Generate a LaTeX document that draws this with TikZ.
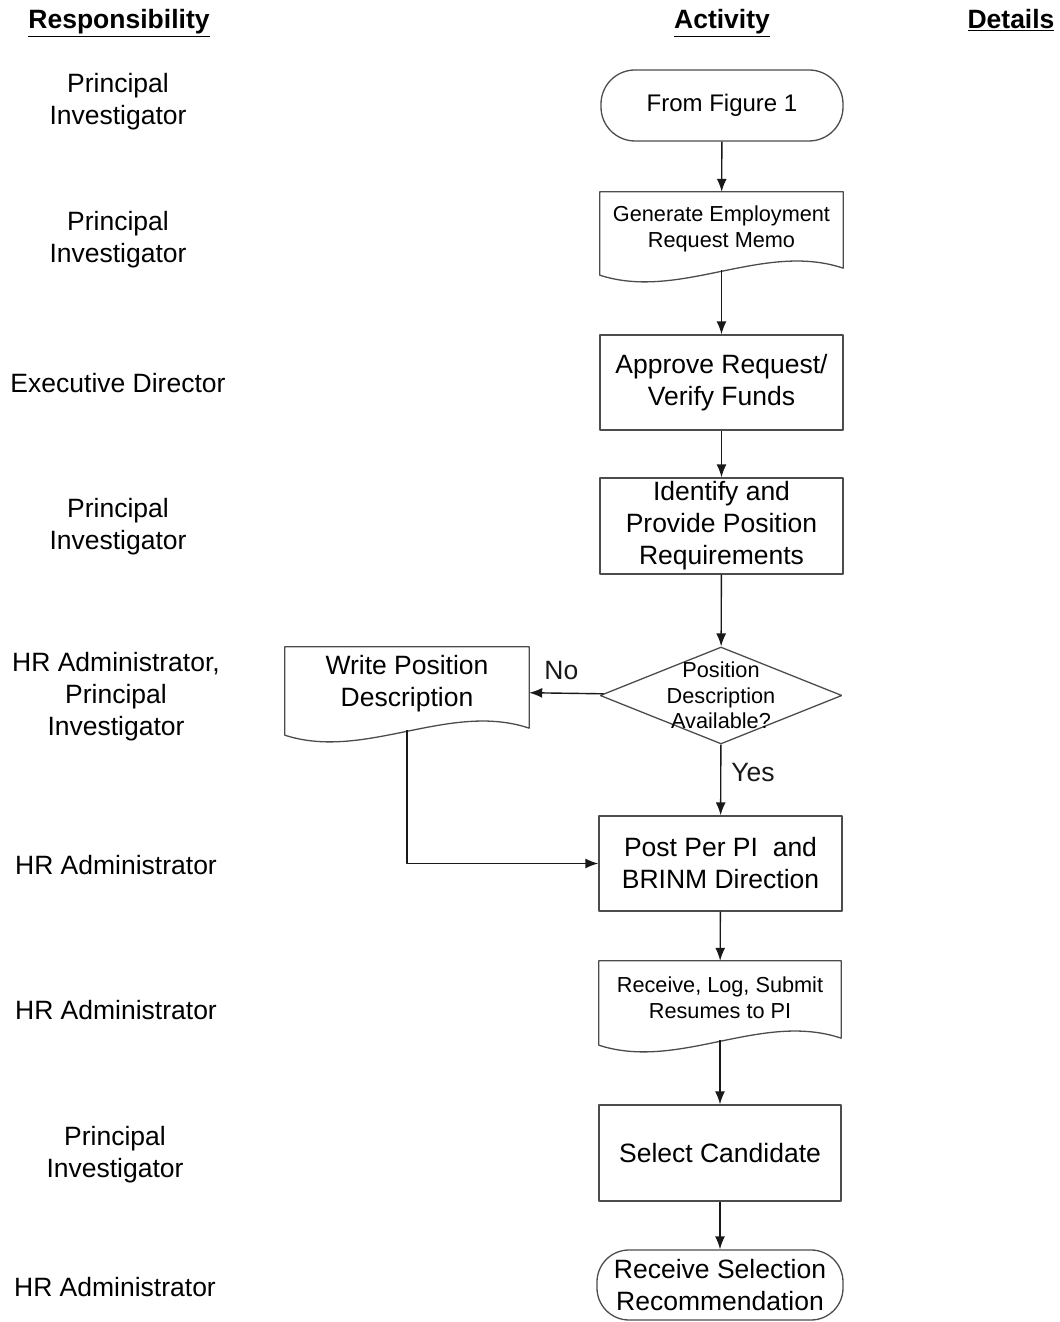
\documentclass[tikz,border=0pt]{standalone}
\usepackage{fontspec}
\setmainfont{Liberation Sans}
\usetikzlibrary{arrows.meta,shapes.geometric}
% wavy bottom of a document box
\newcommand{\docoutline}[1]{%
  \draw[outline] (#1.south west) -- (#1.north west) -- (#1.north east) -- ([yshift=7bp]#1.south east)
    .. controls ([xshift=-80bp,yshift=34bp]#1.south east) and ([xshift=80bp,yshift=-26bp]#1.south west) .. (#1.south west) -- cycle;}
\begin{document}
\begin{tikzpicture}[>={Latex[length=13bp,width=10bp]},line join=bevel,
  big/.style={font=\fontsize{26.5bp}{32bp}\selectfont,align=center,inner sep=0pt},
  small/.style={font=\fontsize{21.7bp}{26bp}\selectfont,align=center,inner sep=0pt},
  head/.style={font=\fontsize{26.5bp}{32bp}\selectfont\bfseries,inner sep=0pt,anchor=base},
  outline/.style={draw=black!70,line width=1.3bp},
  procbox/.style={outline,rectangle,minimum width=243bp,minimum height=95bp,big},
  termbox/.style={outline,rectangle,rounded corners=34bp,minimum width=242bp,minimum height=71bp,align=center,inner sep=0pt},
  docbox/.style={rectangle,minimum width=243bp,inner sep=0pt},
  decbox/.style={outline,diamond,minimum width=242bp,minimum height=97bp,inner sep=0pt},
  flow/.style={->,line width=1.4bp,black!90},
]
\useasboundingbox (0,0) rectangle (1060bp,1322bp);
%% column heads
\node[head] (hresp) at (119bp,1293bp) {\underline{Responsibility}};
\node[head] (hact) at (722bp,1293bp) {\underline{Activity}};
\node[head] (hdet) at (1011bp,1293bp) {\underline{Details}};
%% responsibility column
\node[big] (r1) at (118bp,1220bp) {Principal\\Investigator};
\node[big] (r2) at (118bp,1082bp) {Principal\\Investigator};
\node[big] (r3) at (118bp,939bp) {Executive Director};
\node[big] (r4) at (118bp,795bp) {Principal\\Investigator};
\node[big] (r5) at (116bp,625bp) {HR Administrator,\\Principal\\Investigator};
\node[big] (r6) at (116bp,457bp) {HR Administrator};
\node[big] (r7) at (116bp,312bp) {HR Administrator};
\node[big] (r8) at (115bp,167bp) {Principal\\Investigator};
\node[big] (r9) at (115bp,35bp) {HR Administrator};
%% activity column
  % Node: start
\node[termbox,font=\fontsize{24bp}{29bp}\selectfont] (start) at (722bp,1216.5bp) {From Figure 1};
  % Node: gen
\node[docbox,minimum height=83bp] (gen) at (721.5bp,1088.5bp) {};
\node[small] (gentxt) at ([yshift=5bp]gen.center) {Generate Employment\\Request Memo};
\docoutline{gen}
  % Node: approve
\node[procbox] (approve) at (721.5bp,939.5bp) {Approve Request/\\Verify Funds};
  % Node: ident
\node[procbox,minimum height=96bp] (ident) at (721.5bp,796bp) {Identify and\\Provide Position\\Requirements};
  % Node: posdesc
\node[decbox] (posdesc) at (721bp,626.5bp) {};
\node[small,font=\fontsize{21.7bp}{25.5bp}\selectfont] (posdesctxt) at (posdesc.center) {Position\\Description\\Available?};
  % Node: writepd
\node[docbox,minimum width=244bp,minimum height=88bp] (writepd) at (407bp,631bp) {};
\node[big] (writepdtxt) at ([yshift=7bp]writepd.center) {Write Position\\Description};
\docoutline{writepd}
  % Node: post
\node[procbox] (post) at (720.5bp,458.5bp) {Post Per PI~ and\\BRINM Direction};
  % Node: resumes
\node[docbox,minimum width=242bp,minimum height=84bp] (resumes) at (720bp,319bp) {};
\node[small] (resumestxt) at ([yshift=5bp]resumes.center) {Receive, Log, Submit\\Resumes to PI};
\docoutline{resumes}
  % Node: select
\node[procbox,minimum width=242bp,minimum height=96bp] (select) at (720bp,169bp) {Select Candidate};
  % Node: recsel
\node[termbox,big,minimum width=246bp,minimum height=70bp,rounded corners=32bp] (recsel) at (720bp,37bp) {Receive Selection\\Recommendation};
%% connectors
  % Edge: start -> gen
\draw[flow] (start) -- (gen);
  % Edge: gen -> approve
\draw[flow,shorten <=-5bp] (gen) -- (approve);
  % Edge: approve -> ident
\draw[flow] (approve) -- (ident);
  % Edge: ident -> posdesc
\draw[flow] (ident) -- (posdesc);
  % Edge: posdesc -> writepd
\draw[flow] (posdesc) -- node[big,above=13bp,xshift=-5bp] {No} (writepd);
  % Edge: posdesc -> post
\draw[flow] (posdesc) -- node[big,right=10bp,pos=0.4] {Yes} (post);
  % Edge: writepd -> post
\draw[flow,shorten <=-5bp] (writepd.south) |- (post.west);
  % Edge: post -> resumes
\draw[flow] (post) -- (resumes);
  % Edge: resumes -> select
\draw[flow,shorten <=-5bp] (resumes) -- (select);
  % Edge: select -> recsel
\draw[flow] (select) -- (recsel);
\end{tikzpicture}
\end{document}
